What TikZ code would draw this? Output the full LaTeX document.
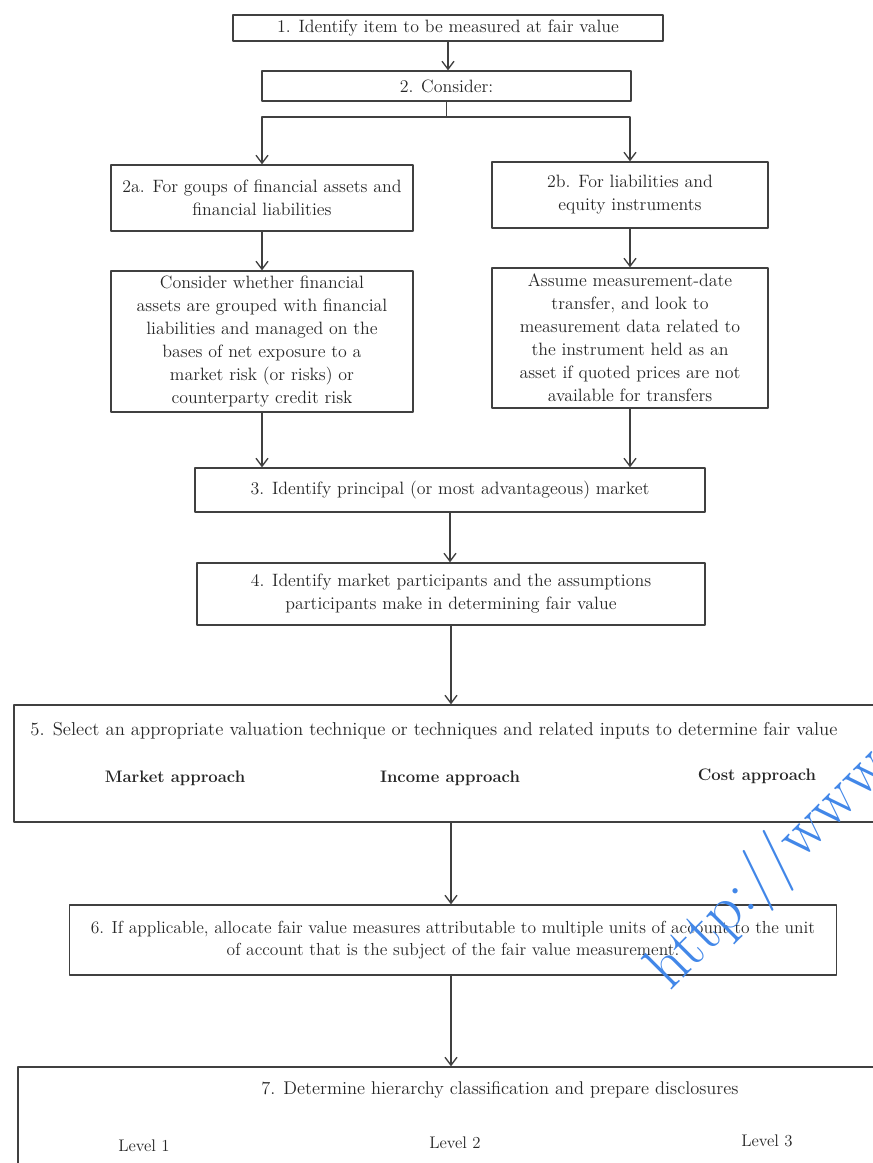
\documentclass[tikz,border=0pt]{standalone}
\usetikzlibrary{arrows.meta}
\definecolor{wmblue}{RGB}{66,135,232}
\begin{document}
\begin{tikzpicture}[x=0.75pt,y=-0.75pt,line cap=round,line join=round,
  box/.style={draw=black!75,line width=1pt,align=center,inner sep=0pt,
    text=black!85,font=\fontsize{13.4}{17.3}\selectfont},
  lbl/.style={text=black!85,font=\fontsize{13.4}{17.3}\selectfont},
  arr/.style={draw=black!75,line width=1pt,-{Straight Barb[length=6pt,width=9pt]}},
  link/.style={draw=black!75,line width=1pt}]
  \useasboundingbox (0,0) rectangle (872,1163);

  % Steps 1 and 2.
  \node[box,minimum width=322.5pt,minimum height=19.5pt] (identify) at (448,28)
    {1. Identify item to be measured at fair value};
  \node[box,minimum width=276.75pt,minimum height=22.5pt] (consider) at (446.5,86)
    {2. Consider:};
  \draw[arr] (identify.south) -- (identify.south |- consider.north);

  % Branch 2a / 2b.
  \node[box,minimum width=226.5pt,minimum height=49.5pt] (groups) at (262,198)
    {2a. For goups of financial assets and\\financial liabilities};
  \node[box,minimum width=207pt,minimum height=49.5pt] (liab) at (630,195)
    {2b. For liabilities and\\equity instruments};
  \coordinate (split) at (446.5,117);
  \draw[link] (consider.south) -- (split);
  \draw[arr] (split) -| (groups.north);
  \draw[arr] (split) -| (liab.north);

  \node[box,minimum width=226.5pt,minimum height=105.75pt] (grpchk) at (262,341.5)
    {Consider whether financial\\assets are grouped with financial\\liabilities and managed on the\\bases of net exposure to a\\market risk (or risks) or\\counterparty credit risk};
  \node[box,minimum width=207pt,minimum height=105pt] (assume) at (630,338)
    {Assume measurement-date\\transfer, and look to\\measurement data related to\\the instrument held as an\\asset if quoted prices are not\\available for transfers};
  \draw[arr] (groups.south) -- (grpchk.north -| groups.south);
  \draw[arr] (liab.south) -- (assume.north -| liab.south);

  % Steps 3 and 4.
  \node[box,minimum width=382.5pt,minimum height=33pt] (principal) at (450,490)
    {3. Identify principal (or most advantageous) market};
  \draw[arr] (grpchk.south) -- (grpchk.south |- principal.north);
  \draw[arr] (assume.south) -- (assume.south |- principal.north);
  \node[box,minimum width=381pt,minimum height=46.5pt] (particip) at (451,594)
    {4. Identify market participants and the assumptions\\participants make in determining fair value};
  \draw[arr] (principal.south) -- (principal.south |- particip.north);

  % Step 5: valuation approaches.
  \node[box,minimum width=657pt,minimum height=87.75pt] (valuation) at (452,763.5) {};
  \draw[arr] (particip.south) -- (particip.south |- valuation.north);
  \node[lbl,font=\fontsize{14}{17}\selectfont] (select) at (434,731)
    {5. Select an appropriate valuation technique or techniques and related inputs to determine fair value};
  \node[lbl,font=\fontsize{12.5}{17}\selectfont\bfseries] (market) at (175,778) {Market approach};
  \node[lbl,font=\fontsize{12.5}{17}\selectfont\bfseries] (income) at (450,778) {Income approach};
  \node[lbl,font=\fontsize{12.5}{17}\selectfont\bfseries] (cost) at (757,776) {Cost approach};

  % Step 6.
  \node[box,font=\fontsize{13.1}{17}\selectfont,minimum width=575.25pt,minimum height=52.5pt] (allocate) at (453,940)
    {6. If applicable, allocate fair value measures attributable to multiple units of account to the unit\\of account that is the subject of the fair value measurement.};
  \draw[arr] (valuation.south -| particip.south) -- (particip.south |- allocate.north);

  % Step 7: hierarchy levels.
  \node[box,minimum width=654pt,minimum height=99.75pt] (hierarchy) at (454,1133.5) {};
  \draw[arr] (allocate.south -| particip.south) -- (particip.south |- hierarchy.north);
  \node[lbl,font=\fontsize{13.8}{17}\selectfont] (determine) at (500,1090)
    {7. Determine hierarchy classification and prepare disclosures};
  \node[lbl,font=\fontsize{12.6}{17}\selectfont] (lvlone) at (144,1146) {Level 1};
  \node[lbl,font=\fontsize{12.6}{17}\selectfont] (lvltwo) at (455,1143) {Level 2};
  \node[lbl,font=\fontsize{12.6}{17}\selectfont] (lvlthree) at (767,1141) {Level 3};

  % Watermark.
  \node[text=wmblue,font=\fontsize{48}{48}\selectfont,anchor=south west,rotate=45,inner sep=0pt]
    (url) at (682,1003) {http://www};
\end{tikzpicture}
\end{document}
